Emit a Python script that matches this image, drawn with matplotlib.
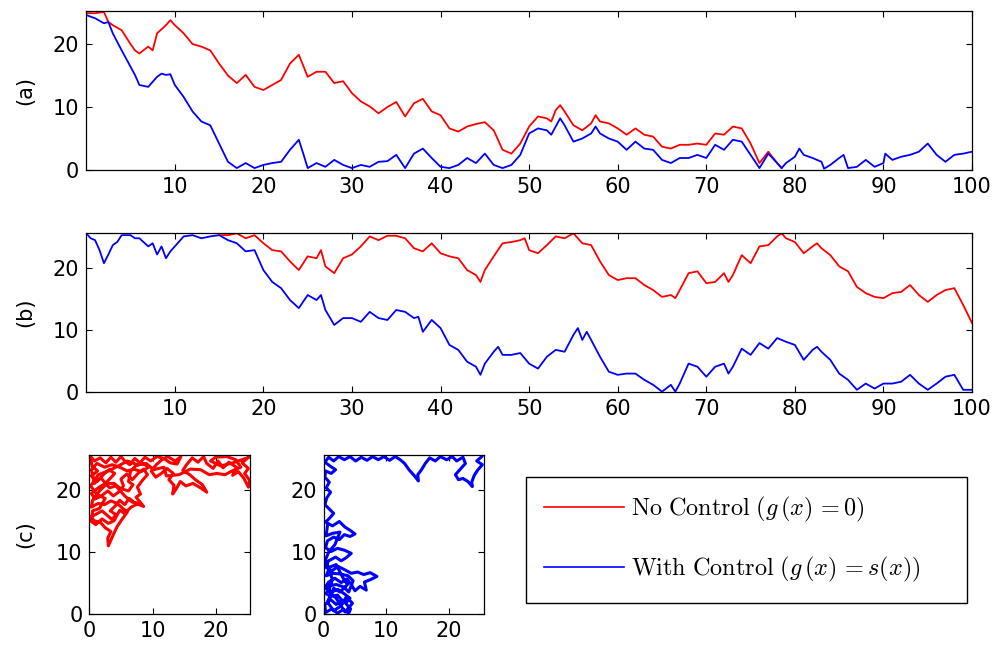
import matplotlib.pyplot as plt

plt.rcParams['mathtext.fontset'] = 'cm'
plt.rcParams['font.family'] = ['DejaVu Sans']
plt.rcParams['font.size'] = 15

# (a) sample paths
ta_red = [0, 1, 2, 2.5, 3, 4, 5, 5.5, 6, 7, 7.5, 8, 9, 9.5, 10, 11, 12, 13, 14, 15,
          16, 17, 18, 19, 20, 21, 22, 23, 24, 25, 26, 27, 28, 29, 30, 31, 32, 33, 34, 35,
          36, 37, 38, 39, 40, 41, 42, 43, 44, 45, 46, 47, 48, 49, 50, 51, 52, 52.5, 53, 53.5,
          54, 55, 56, 57, 57.5, 58, 59, 60, 61, 62, 63, 64, 65, 66, 67, 68, 69, 70, 71, 72,
          73, 74, 75, 76, 77, 78, 78.5]
a_red = [24.9, 24.9, 25.1, 23.5, 23.0, 22.2, 20.0, 19.0, 18.5, 19.6, 19.0, 21.7, 23.0, 23.8, 23.0, 21.7, 20.0, 19.6, 19.0, 16.9,
         15.0, 13.8, 15.1, 13.2, 12.7, 13.5, 14.3, 16.9, 18.3, 14.8, 15.6, 15.6, 13.8, 14.1, 12.2, 10.9, 10.1, 9.0, 10.0, 10.8,
         8.5, 10.6, 11.3, 9.3, 8.7, 6.6, 6.1, 6.9, 7.3, 7.6, 6.3, 3.2, 2.6, 4.2, 6.9, 8.5, 8.2, 7.7, 9.5, 10.3,
         9.3, 7.1, 6.3, 7.4, 8.7, 7.7, 7.4, 6.6, 5.6, 6.6, 5.6, 5.3, 3.7, 3.4, 4.0, 4.0, 4.2, 4.0, 5.8, 5.6,
         6.9, 6.6, 4.2, 1.1, 2.9, 1.1, 0.3]

ta_blue = [0, 1, 2, 2.5, 3, 4, 5, 5.5, 6, 7, 8, 8.5, 9, 9.5, 10, 11, 12, 13, 14, 15,
           16, 17, 18, 19, 20, 21, 22, 23, 24, 24.5, 25, 26, 27, 28, 29, 30, 31, 32, 33, 34,
           35, 36, 37, 38, 39, 40, 41, 42, 43, 44, 45, 46, 47, 48, 49, 50, 51, 52, 52.5, 53,
           53.5, 54, 55, 56, 57, 57.5, 58, 59, 60, 61, 62, 63, 64, 65, 66, 67, 68, 69, 70, 71,
           72, 73, 74, 75, 76, 77, 78, 78.5, 79, 80, 80.5, 81, 82, 83, 83.3, 84, 85, 85.5, 86, 87,
           88, 89, 90, 90.2, 91, 92, 93, 94, 95, 96, 97, 98, 99, 100]
a_blue = [24.6, 24.1, 23.3, 23.5, 21.7, 19.0, 16.4, 15.1, 13.5, 13.2, 14.8, 15.3, 15.1, 15.2, 13.5, 11.6, 9.3, 7.7, 7.1, 4.2,
          1.3, 0.3, 1.1, 0.3, 0.8, 1.1, 1.3, 3.2, 4.8, 2.6, 0.3, 1.1, 0.5, 1.6, 0.8, 0.3, 0.8, 0.5, 1.3, 1.4,
          2.4, 0.3, 2.6, 3.4, 1.9, 0.5, 0.3, 0.8, 1.9, 1.1, 2.6, 0.8, 0.3, 0.8, 2.4, 5.8, 6.6, 6.3, 5.6, 6.9,
          8.2, 7.1, 4.5, 5.0, 5.8, 6.9, 5.8, 5.0, 4.5, 3.2, 4.5, 3.4, 3.2, 1.6, 1.1, 1.9, 1.9, 2.4, 1.9, 4.0,
          3.2, 4.8, 4.5, 2.4, 0.3, 2.6, 1.1, 0.3, 1.1, 2.1, 3.4, 2.4, 1.9, 1.3, 0.2, 0.8, 1.9, 2.4, 0.3, 0.5,
          1.6, 0.5, 1.1, 2.6, 1.6, 2.1, 2.4, 2.9, 4.2, 2.4, 1.3, 2.4, 2.6, 2.9]

# (b) sample paths
tb_red = [15, 16, 17, 18, 19, 20, 21, 22, 23, 24, 25, 26, 26.5, 27, 28, 29, 30, 31, 32, 33,
          34, 35, 36, 37, 38, 39, 40, 41, 42, 43, 44, 44.5, 45, 46, 47, 48, 49, 49.5, 50, 51,
          52, 53, 54, 55, 56, 57, 58, 59, 60, 61, 62, 63, 64, 65, 66, 66.5, 67, 68, 69, 70,
          71, 72, 72.5, 73, 74, 75, 76, 77, 78, 78.5, 79, 80, 81, 82, 82.5, 83, 84, 85, 86, 87,
          88, 89, 90, 91, 92, 93, 94, 95, 96, 97, 98, 99, 100]
b_red = [25.2, 25.2, 25.5, 24.7, 25.2, 23.9, 22.8, 22.6, 21.0, 19.6, 21.8, 21.5, 22.8, 20.2, 19.1, 21.5, 22.1, 23.4, 25.0, 24.4,
         25.1, 25.1, 24.7, 23.1, 22.6, 23.9, 22.3, 21.8, 21.5, 19.6, 18.8, 17.7, 19.6, 21.8, 23.9, 24.1, 24.4, 24.7, 22.8, 22.3,
         23.6, 25.0, 24.7, 25.5, 23.9, 23.6, 21.0, 18.8, 18.0, 18.3, 18.3, 17.2, 16.4, 15.3, 15.6, 15.1, 16.4, 19.1, 19.4, 17.5,
         17.7, 19.1, 17.7, 18.8, 22.0, 20.7, 23.4, 23.6, 25.0, 25.5, 24.7, 24.1, 22.3, 23.4, 23.9, 23.1, 22.0, 20.2, 19.4, 16.9,
         15.9, 15.3, 15.1, 15.9, 16.1, 17.2, 15.6, 14.5, 15.6, 16.4, 16.7, 14.0, 11.1]

tb_blue = [0, 0.5, 1, 1.5, 2, 2.5, 3, 3.5, 4, 5, 5.5, 6, 7, 7.5, 8, 8.5, 9, 9.5, 10, 11,
           12, 13, 14, 15, 16, 17, 18, 19, 20, 21, 22, 23, 24, 25, 26, 26.5, 27, 28, 29, 30,
           31, 32, 33, 34, 35, 36, 37, 37.5, 38, 39, 40, 41, 42, 43, 44, 44.5, 45, 46, 46.5, 47,
           48, 49, 50, 51, 52, 53, 54, 55, 55.5, 56, 56.5, 57, 58, 59, 60, 61, 62, 63, 64, 65,
           66, 66.5, 67, 68, 69, 70, 71, 72, 72.5, 73, 74, 75, 76, 77, 78, 79, 80, 81, 82, 82.5,
           83, 84, 85, 86, 87, 88, 89, 90, 91, 92, 93, 94, 95, 96, 97, 98, 99, 100]
b_blue = [25.5, 24.7, 24.4, 22.8, 20.7, 22.1, 23.6, 24.1, 25.2, 25.2, 24.7, 24.7, 23.4, 23.9, 22.1, 23.4, 21.5, 22.6, 23.4, 25.0,
          25.2, 24.7, 25.0, 25.2, 24.4, 23.9, 22.6, 22.8, 19.6, 17.7, 16.7, 14.8, 13.5, 15.6, 14.8, 15.6, 13.2, 10.8, 11.9, 11.9,
          11.3, 12.9, 11.9, 11.6, 13.2, 12.9, 11.9, 12.1, 9.7, 11.6, 10.3, 7.6, 6.8, 4.9, 4.1, 2.8, 4.6, 6.5, 7.3, 6.0,
          6.0, 6.3, 4.6, 3.8, 5.7, 6.8, 6.5, 9.2, 10.3, 8.4, 9.7, 8.4, 5.7, 3.3, 2.8, 3.0, 3.0, 2.0, 1.2, 0.1,
          1.2, 0.1, 1.4, 4.6, 4.1, 2.5, 4.1, 4.6, 3.0, 4.1, 7.0, 6.0, 7.9, 7.0, 8.7, 8.1, 7.6, 5.2, 6.8, 7.3,
          6.5, 5.2, 3.0, 2.0, 0.4, 1.4, 0.6, 1.4, 1.4, 1.7, 2.8, 1.4, 0.4, 1.4, 2.5, 2.8, 0.4, 0.4]

# (c) planar paths
c_red_x = [25.0, 24.2, 25.2, 24.6, 25.4, 25.2, 24.5, 23.6, 22.7, 23.3, 22.1, 21.2, 20.4, 19.6, 18.6, 18.1, 17.2, 16.3, 15.4, 14.8,
           15.9, 16.8, 17.9, 18.6, 17.6, 16.4, 15.3, 14.4, 13.8, 13.2, 13.4, 12.6, 13.3, 12.3, 11.4, 10.5, 9.8, 10.6, 11.5, 12.4,
           13.6, 14.5, 13.9, 12.8, 11.8, 10.7, 9.7, 8.8, 8.0, 7.2, 6.4, 5.6, 5.0, 4.2, 3.4, 2.6, 1.7, 0.8, 0.2, 0.4,
           1.3, 0.3, 1.2, 2.2, 3.1, 4.0, 3.3, 2.4, 1.4, 0.3, 0.9, 1.9, 2.9, 3.8, 4.6, 5.4, 5.0, 5.9, 6.8, 7.7,
           8.6, 9.2, 8.4, 7.6, 8.1, 7.4, 8.6, 7.2, 6.3, 5.6, 4.8, 4.1, 3.3, 4.2, 3.6, 2.8, 2.0, 1.1, 0.2, 0.8,
           1.8, 2.5, 3.4, 2.9, 3.0, 3.7, 4.4, 5.2, 6.0, 5.3, 4.4, 3.4, 2.4, 1.4, 0.3, 0.5, 1.6, 2.8, 3.9, 4.9,
           6.2, 6.9, 6.2, 6.5, 7.3, 8.5, 9.4, 8.2, 7.0, 6.0, 4.8, 3.6, 2.4, 1.2, 0.3, 0.8, 1.8, 3.2, 4.2, 5.6,
           6.8, 7.8, 6.6, 5.6, 4.8, 3.9, 3.0, 2.0, 1.0, 0.3, 0.5, 1.6, 2.5, 1.2, 0.2, 1.4, 3.0, 4.6, 6.0, 7.6,
           9.0, 10.2, 11.8, 12.2, 14.2, 16.0, 17.6, 19.0, 20.2, 21.5, 22.6, 24.0, 23.2, 21.8, 20.0, 19.2, 20.8, 22.4, 24.2, 25.3]
c_red_y = [25.0, 24.3, 23.4, 22.6, 21.5, 20.4, 21.8, 22.9, 22.3, 23.6, 24.4, 23.5, 24.6, 23.4, 24.2, 25.3, 24.4, 25.1, 24.0, 23.1,
           22.4, 21.6, 20.8, 19.6, 20.3, 21.0, 20.6, 21.3, 20.2, 19.3, 20.7, 21.6, 22.6, 23.4, 22.6, 22.0, 23.0, 24.0, 24.8, 25.3,
           24.6, 25.3, 24.1, 24.3, 25.0, 25.3, 24.6, 25.2, 24.3, 25.0, 24.0, 24.6, 25.3, 24.4, 25.2, 24.3, 25.1, 24.6, 25.3, 23.8,
           23.0, 22.2, 21.3, 22.4, 23.2, 22.6, 21.8, 20.9, 20.3, 19.4, 18.5, 19.0, 19.8, 19.0, 19.6, 20.6, 21.7, 22.5, 21.6, 22.6,
           23.3, 22.4, 21.5, 20.4, 19.3, 18.8, 17.3, 17.9, 18.6, 17.6, 18.3, 17.4, 16.6, 16.0, 15.2, 15.9, 16.6, 16.1, 15.6, 15.0,
           14.7, 13.9, 13.3, 12.2, 11.0, 12.6, 14.1, 15.3, 16.4, 17.0, 17.8, 18.2, 17.6, 17.8, 17.2, 18.3, 19.8, 21.0, 21.0, 20.2,
           19.8, 20.8, 21.3, 22.9, 23.8, 24.2, 23.6, 22.9, 23.3, 23.0, 23.6, 24.0, 23.6, 24.2, 23.2, 21.0, 21.9, 20.3, 20.6, 19.0,
           18.0, 17.8, 17.2, 16.2, 16.7, 15.0, 14.6, 15.3, 14.4, 14.9, 16.6, 17.0, 18.6, 19.2, 20.6, 22.4, 23.0, 23.8, 24.6, 24.0,
           24.2, 23.2, 23.6, 22.2, 22.4, 23.3, 23.2, 22.4, 22.6, 22.4, 23.0, 23.6, 24.8, 25.3, 25.2, 24.6, 23.8, 24.2, 24.8, 25.2]

c_blue_x = [25.2, 24.4, 25.3, 24.6, 24.0, 23.6, 23.7, 23.0, 22.2, 21.5, 21.0, 21.8, 22.6, 22.2, 21.2, 20.5, 19.6, 18.6, 17.8, 16.9,
            16.2, 15.6, 15.0, 15.1, 14.4, 13.6, 12.9, 12.2, 11.4, 10.5, 9.6, 8.7, 7.8, 6.9, 6.0, 5.1, 4.2, 3.3, 2.4, 1.6,
            0.8, 0.2, 1.0, 1.9, 1.2, 0.3, 0.2, 0.9, 0.4, 1.1, 0.5, 0.2, 0.9, 1.6, 1.0, 0.3, 1.4, 2.5, 3.4, 4.2,
            5.0, 4.2, 3.3, 2.5, 1.6, 0.6, 0.3, 1.2, 2.2, 3.3, 4.4, 3.6, 2.8, 1.9, 0.8, 0.3, 1.3, 2.3, 3.3, 4.4,
            5.4, 6.4, 7.4, 8.5, 7.5, 6.5, 6.8, 5.8, 5.0, 4.4, 3.7, 2.8, 1.8, 0.8, 0.2, 1.2, 2.3, 3.3, 4.2, 3.5,
            4.3, 4.0, 3.1, 2.2, 1.3, 0.3, 0.2, 1.1, 2.0, 2.9, 2.2, 1.2, 0.4, 0.9, 2.0, 3.2, 4.0, 4.7, 3.9, 2.6,
            1.5, 0.4, 1.0, 2.0, 3.0, 3.8, 2.6, 1.6, 0.6, 1.6, 2.8, 3.6, 4.6, 3.4, 2.0, 0.8, 1.4, 0.3, 0.8, 1.8,
            2.6, 1.4, 0.4, 0.6]
c_blue_y = [25.3, 24.6, 24.0, 23.2, 22.3, 21.2, 20.5, 21.3, 21.8, 21.6, 22.4, 23.3, 24.2, 25.2, 24.6, 25.3, 24.8, 25.3, 24.6, 25.1,
            24.2, 23.2, 22.4, 21.4, 22.3, 23.2, 24.2, 24.8, 25.3, 24.7, 25.3, 24.8, 25.3, 24.7, 25.2, 24.6, 25.3, 24.8, 25.3, 24.6,
            25.2, 24.4, 23.8, 23.2, 22.6, 23.0, 22.0, 21.2, 20.3, 19.6, 18.7, 17.6, 16.9, 16.2, 15.5, 14.8, 14.2, 14.9, 14.0, 13.5,
            12.9, 12.5, 12.8, 12.0, 12.4, 11.8, 10.7, 10.1, 10.6, 10.3, 9.8, 9.1, 8.6, 9.2, 8.6, 7.6, 7.0, 7.7, 7.2, 6.6,
            6.8, 6.4, 6.7, 6.1, 5.6, 5.2, 3.9, 4.5, 3.8, 4.8, 5.7, 5.1, 5.8, 5.2, 4.3, 3.6, 4.0, 3.3, 2.6, 1.8,
            0.9, 0.2, 0.8, 0.2, 0.9, 0.3, 1.6, 2.4, 1.6, 2.3, 3.1, 2.9, 3.3, 4.6, 4.8, 4.4, 3.6, 5.4, 6.2, 6.5,
            6.6, 6.2, 7.6, 8.0, 6.0, 4.8, 3.6, 4.2, 2.0, 0.6, 1.4, 2.8, 1.8, 0.4, 2.6, 3.8, 5.6, 8.8, 10.0, 11.2,
            13.2, 13.0, 12.6, 14.2]

red = '#ff0000'
blue = '#0000ff'


def style(ax, label=None, label_x=None):
    ax.tick_params(direction='in', top=True, right=True, length=4, width=0.8, pad=5, labelsize=15)
    for s in ax.spines.values():
        s.set_linewidth(0.9)
    if label:
        ax.set_ylabel(label, fontsize=15)
        ax.yaxis.set_label_coords(label_x, 0.5)


fig = plt.figure(figsize=(9.98, 6.51), dpi=100)

ax_a = fig.add_axes([0.0864, 0.7389, 0.8876, 0.2442])
ax_a.plot(ta_red, a_red, color=red, lw=1.3)
l_blue, = ax_a.plot(ta_blue, a_blue, color=blue, lw=1.3)
ax_a.set_xlim(0, 100)
ax_a.set_ylim(0, 25.25)
ax_a.set_xticks(range(10, 101, 10))
ax_a.set_yticks([0, 10, 20])
style(ax_a, '(a)', -0.058)

ax_b = fig.add_axes([0.0864, 0.3974, 0.8876, 0.2452])
l_red, = ax_b.plot(tb_red, b_red, color=red, lw=1.3)
ax_b.plot(tb_blue, b_blue, color=blue, lw=1.3)
ax_b.set_xlim(0, 100)
ax_b.set_ylim(0, 25.6)
ax_b.set_xticks(range(10, 101, 10))
ax_b.set_yticks([0, 10, 20])
style(ax_b, '(b)', -0.058)

ax_c1 = fig.add_axes([0.0896, 0.0561, 0.1612, 0.2454])
ax_c1.plot(c_red_x, c_red_y, color=red, lw=2.2)
ax_c1.set_xlim(0, 25.5)
ax_c1.set_ylim(0, 25.6)
ax_c1.set_xticks([0, 10, 20])
ax_c1.set_yticks([0, 10, 20])
style(ax_c1, '(c)', -0.339)

ax_c2 = fig.add_axes([0.3243, 0.0561, 0.1603, 0.2454])
ax_c2.plot(c_blue_x, c_blue_y, color=blue, lw=2.2)
ax_c2.set_xlim(0, 25.5)
ax_c2.set_ylim(0, 25.6)
ax_c2.set_xticks([0, 10, 20])
ax_c2.set_yticks([0, 10, 20])
style(ax_c2)

leg = fig.legend([l_red, l_blue],
                 [r'$\mathrm{No\ Control}\ (g\,(x)\,{=}0)$',
                  r'$\mathrm{With\ Control}\ (g\,(x)\,{=}s(x))$'],
                 loc='upper left', bbox_to_anchor=(0.5268, 1 - 476.7 / 651, 0.4419, 0),
                 mode='expand', borderaxespad=0, borderpad=0.75, labelspacing=1.3,
                 handlelength=3.3, handletextpad=0.3, fontsize=17.4,
                 fancybox=False, edgecolor='black', framealpha=1)
leg.get_frame().set_linewidth(1.0)
for h in leg.legend_handles:
    h.set_linewidth(1.2)

fig.savefig('out.png', dpi=100)
